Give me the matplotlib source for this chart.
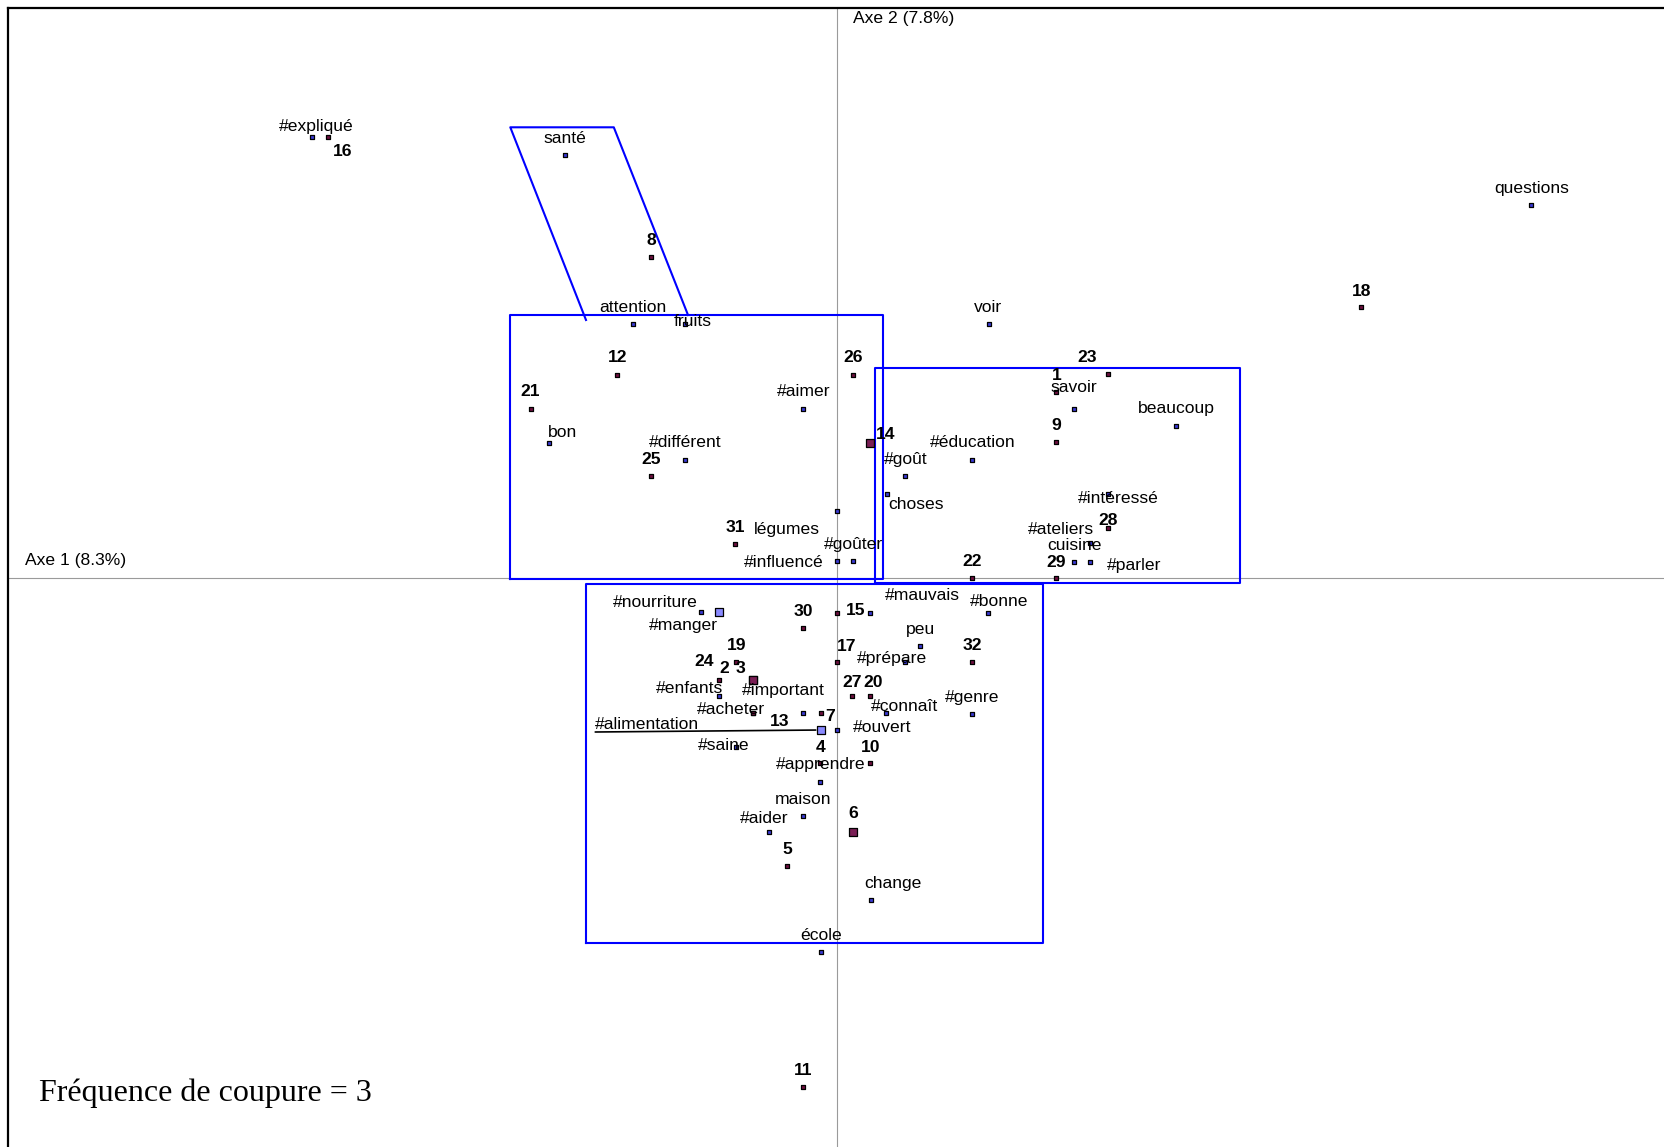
import matplotlib
matplotlib.use("Agg")
import matplotlib.pyplot as plt

# ---------------- data (factor coordinates) ----------------
words = ["#expliqué", "santé", "attention", "fruits", "#aimer", "bon", "#différent", "légumes",
         "#goûter", "#influencé", "voir", "questions", "savoir", "beaucoup", "#éducation", "#goût",
         "choses", "#intéressé", "#ateliers", "cuisine", "#parler", "#mauvais", "#bonne",
         "#nourriture", "#manger", "peu", "#prépare", "#enfants", "#important", "#acheter",
         "#alimentation", "#connaît", "#genre", "#ouvert", "#saine", "#apprendre", "maison",
         "#aider", "change", "école"]
word_x = [-5.25, -2.72, -2.04, -1.52, -0.34, -2.88, -1.52, 0.00,
          0.16, 0.00, 1.52, 6.94, 2.37, 3.39, 1.35, 0.68,
          0.50, 2.71, 2.53, 2.37, 2.53, 0.33, 1.51,
          -1.36, -1.18, 0.83, 0.68, -1.18, -0.34, -0.84,
          -0.16, 0.49, 1.35, 0.00, -1.01, -0.17, -0.34,
          -0.68, 0.34, -0.16]
word_y = [4.41, 4.23, 2.54, 2.54, 1.69, 1.35, 1.18, 0.67,
          0.17, 0.17, 2.54, 3.73, 1.69, 1.52, 1.18, 1.02,
          0.84, 0.84, 0.35, 0.16, 0.16, -0.35, -0.35,
          -0.34, -0.34, -0.68, -0.84, -1.18, -1.35, -1.35,
          -1.52, -1.35, -1.36, -1.52, -1.69, -2.04, -2.38,
          -2.54, -3.22, -3.74]

numbers = [str(i) for i in range(1, 33)]
num_x = [2.19, -0.84, -0.84, -0.17, -0.50, 0.16, -0.16, -1.86, 2.19, 0.33,
         -0.34, -2.20, -0.84, 0.33, 0.00, -5.09, 0.00, 5.24, -1.01, 0.33,
         -3.06, 1.35, 2.71, -1.18, -1.86, 0.16, 0.15, 2.71, 2.19, -0.34,
         -1.02, 1.35]
num_y = [1.86, -1.02, -1.02, -1.85, -2.88, -2.54, -1.35, 3.21, 1.36, -1.85,
         -5.09, 2.03, -1.35, 1.35, -0.35, 4.41, -0.84, 2.71, -0.84, -1.18,
         1.69, 0.00, 2.04, -1.02, 1.02, 2.03, -1.18, 0.50, 0.00, -0.50,
         0.34, -0.84]

big_words = {"#manger", "#alimentation"}
big_numbers = {"2", "3", "6", "14"}

axis1_label = "Axe 1 (8.3%)"
axis2_label = "Axe 2 (7.8%)"
note = "Fréquence de coupure = 3"

# selection shapes (factor coordinates)
rect_a = (-3.27, -0.013, 0.454, 2.627)   # xmin, ymin, xmax, ymax
rect_b = (0.377, -0.053, 4.027, 2.103)
rect_c = (-2.513, -3.653, 2.054, -0.06)
quad_x = [-2.513, -3.27, -2.235, -1.493]
quad_y = [2.58, 4.507, 4.507, 2.63]

# ---------------- layout (label offsets in pixels) ----------------
DEFAULT_OFF = (0, 18)
DY = -1.5  # global vertical nudge of labels
word_off = {"#expliqué": (4, 12), "fruits": (7, 4), "bon": (13, 12), "légumes": (-50, -17),
            "#influencé": (-54, 0), "voir": (-1, 18), "savoir": (0, 23), "choses": (29, -9),
            "#intéressé": (10, -3), "#ateliers": (-29, 15), "#parler": (44, -2),
            "#mauvais": (52, 19), "#bonne": (11, 13), "#nourriture": (-46, 11),
            "#manger": (-36, -12), "#prépare": (-13, 5), "#enfants": (-30, 9),
            "#important": (-20, 24), "#acheter": (-22, 5), "#alimentation": (-174, 7),
            "#connaît": (18, 8), "#ouvert": (45, 4), "#saine": (-13, 3), "#aider": (-5, 15),
            "change": (22, 18), "#aimer": (0, 19), "#différent": (0, 19), "beaucoup": (0, 19),
            "#éducation": (0, 19), "#apprendre": (0, 19)}
num_off = {"2": (-29, 13), "3": (-13, 13), "4": (0, 17), "6": (0, 20), "7": (9, -2),
           "10": (0, 17), "12": (0, 19), "13": (26, -7), "14": (15, 10), "15": (18, 4),
           "16": (14, -13), "17": (9, 17), "18": (0, 17), "20": (3, 15), "21": (-1, 19),
           "23": (-21, 18), "24": (-15, 20), "26": (0, 19), "27": (0, 15), "28": (0, 9),
           "29": (0, 17)}

W, H, DPI = 1664, 1147, 100
fig = plt.figure(figsize=(W / DPI, H / DPI), dpi=DPI)
fig.patch.set_facecolor("white")
ax = fig.add_axes([8 / W, 0, 1 - 8 / W, 1 - 8 / H])
ax.set_xlim(-8.293, 8.267)
ax.set_ylim(-5.69, 5.70)
ax.set_xticks([])
ax.set_yticks([])
for s in ("right", "bottom"):
    ax.spines[s].set_visible(False)
for s in ("left", "top"):
    ax.spines[s].set_linewidth(1.6)
    ax.spines[s].set_color("black")

ax.axhline(0, color="#9a9a9a", lw=0.8, zorder=1)
ax.axvline(0, color="#9a9a9a", lw=0.8, zorder=1)

FONT = "Liberation Sans"
FS = 12.6

# axis captions
ax.annotate(axis1_label, xy=(ax.get_xlim()[0], 0), xytext=(17, 18), textcoords="offset pixels",
            ha="left", va="center", fontsize=FS, family=FONT)
ax.annotate(axis2_label, xy=(0, ax.get_ylim()[1]), xytext=(16, -11), textcoords="offset pixels",
            ha="left", va="center", fontsize=FS, family=FONT)

# selection shapes
BLUE = "#0000ff"
for (x0, y0, x1, y1) in (rect_a, rect_b, rect_c):
    ax.plot([x0, x1, x1, x0, x0], [y0, y0, y1, y1, y0], color=BLUE, lw=1.5, zorder=2)
ax.plot(quad_x, quad_y, color=BLUE, lw=1.5, zorder=2)

# points
WORD_FILL, WORD_BIG = "#3b3bd8", "#8a8aff"
NUM_FILL, NUM_BIG = "#6e1040", "#7a1f55"

for lab, x, y in zip(words, word_x, word_y):
    big = lab in big_words
    ax.scatter([x], [y], marker="s", s=34 if big else 10,
               facecolors=WORD_BIG if big else WORD_FILL,
               edgecolors="black", linewidths=0.9, zorder=3)
for lab, x, y in zip(numbers, num_x, num_y):
    big = lab in big_numbers
    ax.scatter([x], [y], marker="s", s=34 if big else 10,
               facecolors=NUM_BIG if big else NUM_FILL,
               edgecolors="black", linewidths=0.9, zorder=3)

# labels
for lab, x, y in zip(words, word_x, word_y):
    dx, dy = word_off.get(lab, DEFAULT_OFF)
    kw = {}
    if lab == "#alimentation":
        kw["arrowprops"] = dict(arrowstyle="-", color="black", lw=1.2,
                                relpos=(0.0, 0.0), patchA=None, shrinkA=0, shrinkB=4)
    ax.annotate(lab, xy=(x, y), xytext=(dx, dy + DY), textcoords="offset pixels",
                ha="center", va="center", fontsize=FS, family=FONT, zorder=4, **kw)
for lab, x, y in zip(numbers, num_x, num_y):
    dx, dy = num_off.get(lab, DEFAULT_OFF)
    ax.annotate(lab, xy=(x, y), xytext=(dx, dy + DY), textcoords="offset pixels",
                ha="center", va="center", fontsize=FS, family=FONT,
                fontweight="bold", zorder=4)

fig.text(39.4 / W, 1 - 1101 / H, note, ha="left", va="baseline",
         fontsize=23, family="Liberation Serif")

fig.savefig("out.png", dpi=DPI, facecolor="white")
